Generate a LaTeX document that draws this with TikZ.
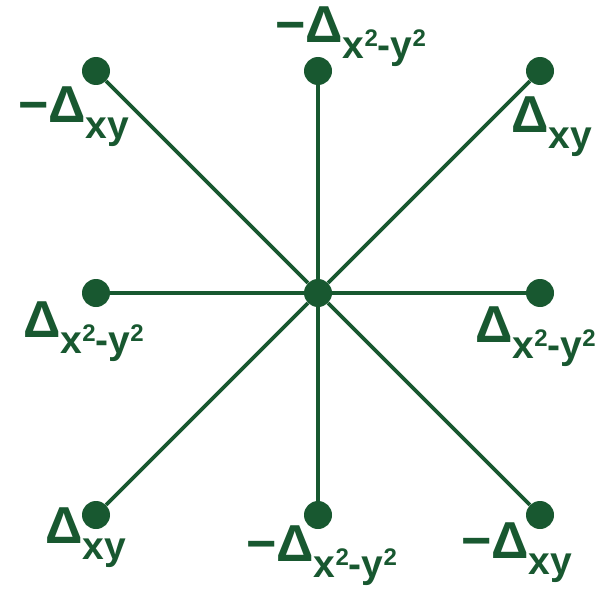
\documentclass[tikz,border=0pt]{standalone}
\usepackage{fontspec}
\setmainfont{Liberation Sans}[BoldFont={Liberation Sans Bold}]
\definecolor{dkgreen}{RGB}{24,88,48}
\newcommand{\bigD}{{\fontsize{52}{52}\selectfont Δ}}
\newcommand{\bigM}{{\fontsize{52}{52}\selectfont −}}
\newcommand{\supTwo}{\raisebox{12pt}{\fontsize{24}{24}\selectfont 2}}
\newcommand{\subXY}{\raisebox{-16pt}{\fontsize{39}{39}\selectfont xy}}
\newcommand{\subXX}{\raisebox{-16pt}{\fontsize{39}{39}\selectfont x\supTwo-y\supTwo}}
\begin{document}
\begin{tikzpicture}[x=1pt,y=-1pt,
  dot/.style={circle,fill=dkgreen,inner sep=0pt,minimum size=28pt},
  lbl/.style={inner sep=0pt,anchor=base west,text=dkgreen,font=\bfseries},
  spoke/.style={draw=dkgreen,line width=3.8pt}]
\useasboundingbox (0,0) rectangle (616,594);
\node[dot] (c)  at (318,293) {};
\node[dot] (tl) at (96,71) {};
\node[dot] (tc) at (318,71) {};
\node[dot] (tr) at (540,71) {};
\node[dot] (ml) at (96,293) {};
\node[dot] (mr) at (540,293) {};
\node[dot] (bl) at (96,515) {};
\node[dot] (bc) at (318,515) {};
\node[dot] (br) at (540,515) {};
\foreach \n in {tl,tc,tr,ml,mr,bl,bc,br} \draw[spoke] (c) -- (\n);
\node[lbl] (ltl) at (18,122) {\bigM\bigD\subXY};
\node[lbl] (ltc) at (275,43) {\bigM\bigD\subXX};
\node[lbl] (ltr) at (511,132) {\bigD\subXY};
\node[lbl] (lml) at (23,337) {\bigD\subXX};
\node[lbl] (lmr) at (475,342) {\bigD\subXX};
\node[lbl] (lbl) at (45,543) {\bigD\subXY};
\node[lbl] (lbc) at (246,561) {\bigM\bigD\subXX};
\node[lbl] (lbr) at (461,558) {\bigM\bigD\subXY};
\end{tikzpicture}
\end{document}
